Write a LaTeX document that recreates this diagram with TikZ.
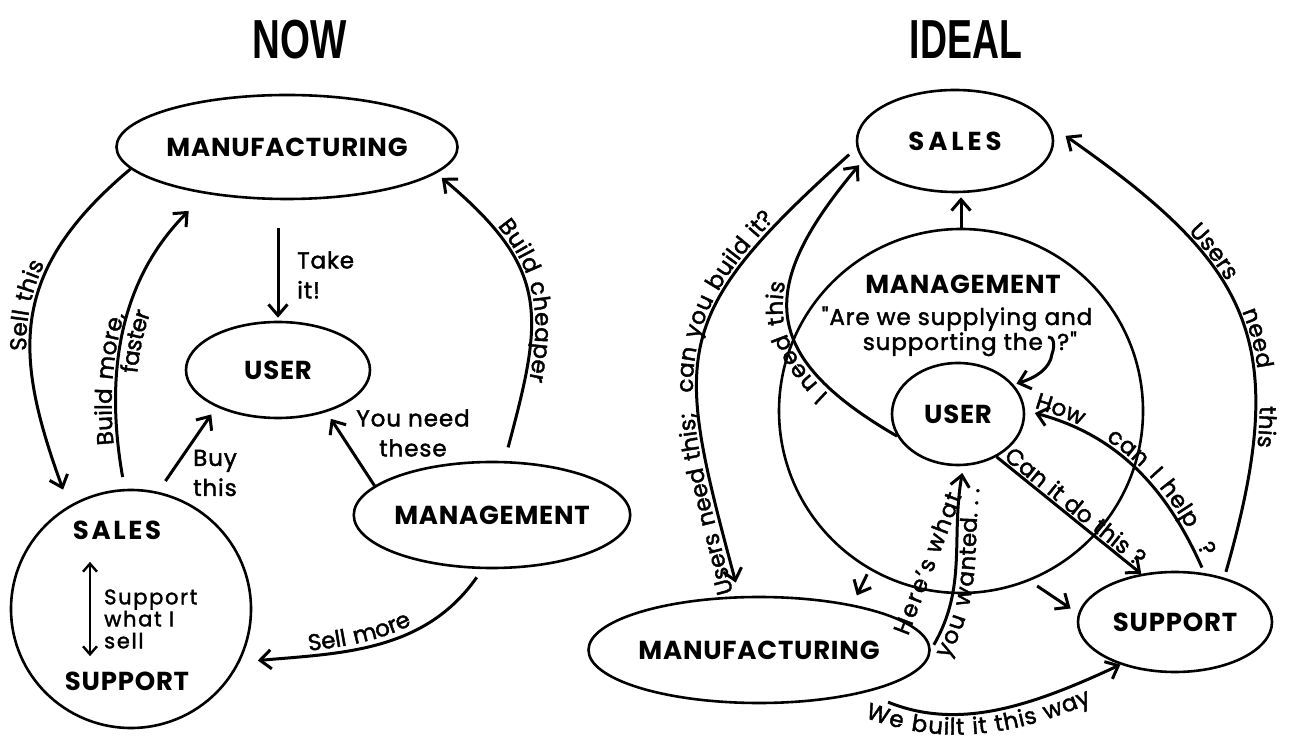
\documentclass[tikz,border=0pt]{standalone}
\usepackage{graphicx}
\usepackage{fontspec}
\setmainfont{Poppins}
\newfontfamily\titlefont{Liberation Sans}
\newfontfamily\annotfam{Poppins}[FakeBold=1.8]
\usetikzlibrary{arrows.meta,shapes.geometric,decorations.text}

\newcommand\annot{\annotfam\fontsize{23}{30}\selectfont\addfontfeature{LetterSpace=4}}
\newcommand\pathfont{\annotfam\fontsize{23}{30}\selectfont\addfontfeature{LetterSpace=8}}
\newcommand\boxfont{\fontsize{26}{30}\selectfont\bfseries\addfontfeature{LetterSpace=3}}

\tikzset{
	dept/.style={draw, ellipse, line width=2.6pt, inner sep=0pt, font=\boxfont},
	arr/.style={-{Straight Barb[length=11pt,width=19pt]}, line width=3pt},
	rarr/.style={{Straight Barb[length=11pt,width=19pt]}-, line width=3pt},
	note/.style={font=\annot, inner sep=0pt, align=left},
	say/.style n args={3}{postaction={decorate, decoration={text along path, text align={left indent=#1}, raise=#2, text={|\pathfont|#3}}}},
	saytight/.style n args={3}{postaction={decorate, decoration={text along path, text align={left indent=#1}, raise=#2, text={|\annot|#3}}}},
	heading/.style={font=\titlefont\bfseries\fontsize{55}{60}\selectfont}
}

\begin{document}
\begin{tikzpicture}[x=1pt, y=1pt]
			\useasboundingbox (0,0) rectangle (1292,744);

			\draw (300,704) node (now) [heading] {\scalebox{0.7}[1]{NOW}};
			\draw (966,704) node (ideal) [heading] {\scalebox{0.68}[1]{IDEAL}};

			% now
			\draw (287,597) node (lmanuf) [dept, minimum width=288pt, minimum height=104pt] {MANUFACTURING};
			\draw (278,374) node (luser) [dept, minimum width=184pt, minimum height=96pt] {USER};
			\draw (492,229) node (lmgmt) [dept, minimum width=214pt, minimum height=106pt] {MANAGEMENT};
			\draw (131,135) node (lsales) [dept, minimum width=240pt, minimum height=238pt] {};
			\draw (117,214) node (lsalestxt) [font=\boxfont] {\addfontfeature{LetterSpace=10}SALES};
			\draw (127,63) node (lsupptxt) [font=\boxfont] {SUPPORT};
			\draw (104,125) node (lsay) [note, anchor=west, font=\annotfam\fontsize{21}{22}\selectfont\addfontfeature{LetterSpace=8}] {Support\\what I\\sell};
			\coordinate (lspine) at (90,0);
			\draw[line width=2.4pt, {Straight Barb[length=8pt,width=14pt]}-{Straight Barb[length=8pt,width=14pt]}, shorten <=19pt, shorten >=12pt]
			(lsalestxt.south -| lspine) to (lsupptxt.north -| lspine);

			\draw (297,469) node (ltake) [note, anchor=west] {Take\\it!};
			\draw (193,271) node (lbuy) [note, anchor=west] {Buy\\this};
			\draw (413,311) node (lneed) [note, align=center] {You need\\these};

			\draw[arr, shorten <=28pt, shorten >=3pt] (lmanuf.south -| luser.north) to (luser.north);
			\draw[rarr, shorten <=17pt, looseness=1.2, say={160pt}{5pt}{Sell this}] (lsales.121) to[out=110,in=220] (lmanuf.188);
			\draw[arr, shorten <=12pt, shorten >=24pt, say={45pt}{5pt}{Build more,}, say={118pt}{-19pt}{faster}] (lsales.93) to[out=100,in=225] (lmanuf.210);
			\draw[arr, shorten <=13pt, shorten >=9pt] (lsales.77) to (luser.211);
			\draw[arr, shorten >=8pt] (lmgmt.166) to (luser.-41);
			\draw[rarr, shorten <=7pt, shorten >=14pt, looseness=1.3, say={80pt}{5pt}{Build cheaper}] (lmanuf.-10) to[out=-40,in=75] (lmgmt.77);
			\draw[rarr, shorten <=18pt, shorten >=10pt, say={70pt}{5pt}{Sell more}] (lsales.-26) to[out=5,in=235] (lmgmt.-100);

			% ideal
			\draw (955,603) node (rsales) [dept, minimum width=196pt, minimum height=102pt] {\addfontfeature{LetterSpace=15}SALES};
			\draw (961,333) node (rmgmt) [dept, minimum width=364pt, minimum height=364pt] {};
			\draw (963,460) node (rmgmttxt) [font=\boxfont] {MANAGEMENT};
			\draw (957,419) node (rask) [note, anchor=base] {"Are we supplying and};
			\draw (1043,394) node (raska) [note, anchor=base east] {supporting the};
			\draw (1057,394) node (raskb) [note, anchor=base west] {?"};
			\coordinate (curl) at (1048,407);
			\draw (958,330) node (ruser) [dept, minimum width=132pt, minimum height=102pt] {USER};
			\draw (759,94) node (rmanuf) [dept, minimum width=288pt, minimum height=106pt] {MANUFACTURING};
			\draw (1175,122) node (rsupp) [dept, minimum width=194pt, minimum height=100pt] {SUPPORT};
			\draw (927,181) node (rhere) [note, rotate=69, font=\pathfont] {Here’s what};

			\draw[arr, shorten >=4pt] (rmgmt.north) to (rmgmt.north |- rsales.south);
			\draw[rarr, shorten <=14pt, shorten >=10pt, looseness=1.4, say={5pt}{5pt}{Users need this;}, say={208pt}{5pt}{can you build it?}] (rmanuf.110) to[out=105,in=222] (rsales.184);
			\draw[arr, shorten >=6pt, looseness=1.5, say={80pt}{5pt}{I need this}] (ruser.200) to[out=150,in=230] (rsales.192);
			\draw[rarr, shorten <=20pt, shorten >=6pt, looseness=1.3, say={175pt}{5pt}{Users}, say={270pt}{5pt}{need}, say={365pt}{5pt}{this}] (rsales.10) to[out=-35,in=74] (rsupp.42);
			\draw[rarr, shorten <=10pt, shorten >=6pt, say={8pt}{5pt}{How}, say={85pt}{5pt}{can}, say={140pt}{5pt}{I}, say={155pt}{5pt}{help}, say={225pt}{5pt}{?}] (ruser.3) to[out=-15,in=114] (rsupp.59);
			\draw[arr, saytight={6pt}{3pt}{Can it do this ?}] (ruser.-48) to (rsupp.125);
			\draw[arr, shorten <=6pt, shorten >=7pt, say={0pt}{-19pt}{you wanted. . .}] (rmanuf.east) to[out=60,in=260] (ruser.-84);
			\draw[arr, shorten <=5pt, shorten >=10pt] (rmgmt.240) to (rmanuf.26);
			\draw[arr, shorten <=9pt, shorten >=9pt] (rmgmt.-68) to (rsupp.175);
			\draw[arr, shorten <=25pt, saytight={8pt}{-23pt}{We built it this way}] (rmanuf.-22) to[out=-22,in=205] (rsupp.218);
			\draw[arr, shorten >=3pt] (curl) .. controls (1054,408) and (1055,398) .. (1052,390) .. controls (1050,375) and (1035,366) .. (ruser.28);
\end{tikzpicture}
\end{document}
